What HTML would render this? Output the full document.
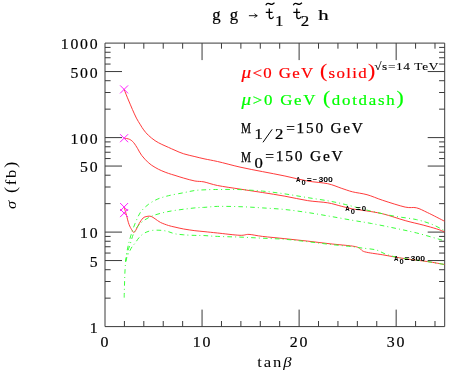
<!DOCTYPE html>
<html><head><meta charset="utf-8"><title>plot</title>
<style>
html,body{margin:0;padding:0;background:#fff;}
body{width:449px;height:374px;overflow:hidden;}
svg{display:block;font-family:"Liberation Serif",serif;will-change:transform;-webkit-font-smoothing:antialiased;}
.tk{font-size:15px;letter-spacing:1.7px;fill:#000;stroke:#000;stroke-width:0.18px;}
.lg{font-size:14.5px;letter-spacing:1.7px;}
.sm{font-size:7.5px;font-weight:bold;fill:#000;letter-spacing:0.2px;}
.it{font-style:italic;}
.bd{stroke-width:0.2px;}
</style></head><body>
<svg width="449" height="374" viewBox="0 0 449 374">
<rect width="449" height="374" fill="#fff"/>
<path d="M105.0 43.1H444.7V326.6H105.0ZM124.41 326.6v-5.6M124.41 43.1v5.6M143.82 326.6v-5.6M143.82 43.1v5.6M163.23 326.6v-5.6M163.23 43.1v5.6M182.65 326.6v-5.6M182.65 43.1v5.6M202.06 326.6v-17.0M202.06 43.1v17.0M221.47 326.6v-5.6M221.47 43.1v5.6M240.88 326.6v-5.6M240.88 43.1v5.6M260.29 326.6v-5.6M260.29 43.1v5.6M279.70 326.6v-5.6M279.70 43.1v5.6M299.11 326.6v-17.0M299.11 43.1v17.0M318.53 326.6v-5.6M318.53 43.1v5.6M337.94 326.6v-5.6M337.94 43.1v5.6M357.35 326.6v-5.6M357.35 43.1v5.6M376.76 326.6v-5.6M376.76 43.1v5.6M396.17 326.6v-17.0M396.17 43.1v17.0M415.58 326.6v-5.6M415.58 43.1v5.6M434.99 326.6v-5.6M434.99 43.1v5.6M105.0 298.15h5.6M444.7 298.15h-5.6M105.0 281.51h5.6M444.7 281.51h-5.6M105.0 269.71h5.6M444.7 269.71h-5.6M105.0 260.55h17.0M444.7 260.55h-17.0M105.0 253.06h5.6M444.7 253.06h-5.6M105.0 246.74h5.6M444.7 246.74h-5.6M105.0 241.26h5.6M444.7 241.26h-5.6M105.0 236.42h5.6M444.7 236.42h-5.6M105.0 232.10h17.0M444.7 232.10h-17.0M105.0 203.65h5.6M444.7 203.65h-5.6M105.0 187.01h5.6M444.7 187.01h-5.6M105.0 175.21h5.6M444.7 175.21h-5.6M105.0 166.05h17.0M444.7 166.05h-17.0M105.0 158.56h5.6M444.7 158.56h-5.6M105.0 152.24h5.6M444.7 152.24h-5.6M105.0 146.76h5.6M444.7 146.76h-5.6M105.0 141.92h5.6M444.7 141.92h-5.6M105.0 137.60h17.0M444.7 137.60h-17.0M105.0 109.15h5.6M444.7 109.15h-5.6M105.0 92.51h5.6M444.7 92.51h-5.6M105.0 80.71h5.6M444.7 80.71h-5.6M105.0 71.55h17.0M444.7 71.55h-17.0M105.0 64.06h5.6M444.7 64.06h-5.6M105.0 57.74h5.6M444.7 57.74h-5.6M105.0 52.26h5.6M444.7 52.26h-5.6M105.0 47.42h5.6M444.7 47.42h-5.6" fill="none" stroke="#3a3a3a" stroke-width="1"/>
<path d="M124.1 89.4C124.8 91.2 127.0 96.7 128.4 100.0C129.8 103.3 131.1 106.4 132.4 109.4C133.7 112.4 135.1 115.5 136.4 118.1C137.7 120.7 139.2 122.8 140.4 124.8C141.6 126.8 142.4 128.2 143.7 129.9C145.0 131.7 146.5 133.5 148.4 135.3C150.3 137.1 152.9 139.2 155.1 140.7C157.3 142.2 159.6 143.3 161.8 144.4C164.0 145.5 166.3 146.4 168.5 147.4C170.7 148.4 172.5 149.2 175.0 150.3C177.5 151.4 180.4 152.8 183.7 153.8C187.0 154.9 191.3 155.7 194.9 156.6C198.5 157.5 201.2 158.2 205.0 159.0C208.8 159.8 211.7 160.2 217.5 161.5C223.3 162.8 232.5 165.4 240.0 167.1C247.5 168.8 254.9 170.1 262.4 171.6C269.9 173.1 277.4 174.4 284.9 176.0C292.4 177.6 300.4 179.7 307.5 181.0C314.6 182.3 322.1 182.5 327.7 183.7C333.3 184.9 337.1 186.8 341.2 188.2C345.3 189.5 348.1 190.7 352.4 191.8C356.7 192.9 361.9 193.3 367.0 194.7C372.1 196.1 376.3 198.2 382.7 200.3C389.1 202.4 399.6 205.8 405.2 207.1C410.8 208.3 412.6 206.9 416.4 207.8C420.1 208.7 423.0 210.5 427.7 212.7C432.4 214.9 441.7 219.8 444.5 221.2" fill="none" stroke="#ff3030" stroke-width="0.95"/>
<path d="M124.1 138.1C125.0 138.3 128.1 138.6 129.7 139.4C131.3 140.2 132.4 141.1 133.7 142.7C135.0 144.2 136.4 146.6 137.7 148.7C139.0 150.8 139.9 153.1 141.7 155.4C143.5 157.7 146.2 160.7 148.4 162.7C150.6 164.7 152.9 166.1 155.1 167.4C157.3 168.8 159.6 169.8 161.8 170.8C164.0 171.8 166.3 172.6 168.5 173.4C170.7 174.2 172.5 174.6 175.0 175.4C177.5 176.2 180.4 177.2 183.7 178.1C187.0 179.0 191.5 180.4 194.9 181.0C198.3 181.6 200.2 181.2 204.0 181.9C207.8 182.7 211.5 184.3 217.5 185.5C223.5 186.7 232.5 187.9 240.0 189.1C247.5 190.3 254.9 191.3 262.4 192.5C269.9 193.7 277.4 194.8 284.9 196.2C292.4 197.5 300.4 199.5 307.5 200.6C314.6 201.7 322.1 201.9 327.7 202.8C333.3 203.7 337.1 205.2 341.2 206.2C345.3 207.2 348.8 208.2 352.4 208.9C355.9 209.6 357.4 209.5 362.5 210.3C367.6 211.1 375.6 212.1 382.7 213.8C389.8 215.5 398.4 218.7 405.2 220.6C411.9 222.5 418.0 223.7 423.2 225.1C428.4 226.5 433.1 227.8 436.6 228.9C440.2 230.0 443.2 231.3 444.5 231.8" fill="none" stroke="#ff3030" stroke-width="0.95"/>
<path d="M124.1 207.0C124.5 208.3 125.6 212.1 126.4 215.0C127.2 217.9 128.1 222.0 129.0 224.4C129.9 226.8 130.9 228.4 131.7 229.7C132.5 231.0 133.0 232.3 133.7 232.4C134.4 232.5 134.8 231.9 135.7 230.4C136.6 228.9 137.9 225.8 139.1 223.7C140.3 221.6 141.8 219.2 143.1 218.0C144.4 216.8 145.8 216.7 147.1 216.4C148.4 216.1 149.8 216.0 151.1 216.4C152.4 216.8 153.5 217.8 155.1 218.8C156.7 219.8 158.2 221.3 160.4 222.4C162.6 223.5 166.1 224.7 168.5 225.5C170.9 226.3 172.5 226.5 175.0 227.1C177.5 227.7 180.4 228.4 183.7 229.0C187.0 229.6 191.3 230.2 194.9 230.7C198.5 231.1 201.2 231.3 205.0 231.7C208.8 232.1 211.7 232.4 217.5 233.0C223.3 233.6 234.8 235.1 240.0 235.3C245.2 235.5 245.3 234.2 249.0 234.4C252.7 234.6 256.4 235.7 262.4 236.4C268.4 237.1 277.4 237.9 284.9 238.7C292.4 239.5 300.0 240.2 307.5 241.1C315.0 241.9 322.5 243.0 330.0 243.8C337.5 244.6 347.5 245.4 352.4 246.1C357.3 246.8 357.1 247.1 359.2 248.0C361.2 248.9 360.8 250.7 364.7 251.8C368.6 252.9 375.9 253.7 382.7 254.8C389.4 256.0 397.7 257.6 405.2 258.7C412.7 259.8 421.1 260.6 427.7 261.6C434.2 262.6 441.7 264.0 444.5 264.5" fill="none" stroke="#ff3030" stroke-width="0.95"/>
<path d="M124.2 297.6C124.2 296.0 124.3 291.2 124.4 288.0C124.5 284.8 124.6 281.7 124.7 278.5C124.8 275.3 124.9 271.8 125.1 268.9C125.3 266.0 125.4 264.1 125.7 261.4C126.0 258.7 126.3 255.6 126.8 252.8C127.2 250.0 127.7 247.6 128.4 244.7C129.1 241.8 129.9 238.6 131.0 235.1C132.1 231.6 133.4 227.5 135.0 223.7C136.6 219.9 138.2 215.6 140.4 212.4C142.6 209.2 145.5 206.6 148.4 204.4C151.3 202.2 154.5 200.4 157.8 199.0C161.2 197.6 164.2 196.8 168.5 195.7C172.8 194.6 179.3 193.6 183.7 192.7C188.1 191.8 191.3 191.0 194.9 190.5C198.5 190.0 201.2 190.0 205.0 189.8C208.8 189.6 211.7 189.5 217.5 189.5C223.3 189.5 232.5 189.3 240.0 189.6C247.5 189.9 254.9 190.4 262.4 191.1C269.9 191.8 277.4 192.8 284.9 193.9C292.4 195.0 300.0 196.4 307.5 197.6C315.0 198.8 323.6 200.0 330.0 201.2C336.4 202.4 338.8 202.9 345.7 204.6C352.6 206.3 363.4 209.3 371.5 211.2C379.6 213.1 386.5 214.7 394.0 216.1C401.5 217.5 410.0 218.2 416.4 219.6C422.8 221.0 427.4 222.6 432.1 224.4C436.8 226.2 442.4 229.6 444.5 230.7" fill="none" stroke="#30ff30" stroke-width="0.95" stroke-dasharray="4.6 3.1 1 3.2" stroke-dashoffset="0.0"/>
<path d="M125.7 261.4C126.0 260.0 126.6 255.6 127.3 252.8C128.0 250.0 129.0 247.9 130.0 244.7C131.0 241.5 132.2 236.9 133.5 233.8C134.8 230.8 136.1 228.5 137.7 226.4C139.3 224.3 140.9 222.8 143.1 221.1C145.3 219.4 148.0 217.8 151.1 216.4C154.2 215.1 157.8 214.0 161.8 213.0C165.8 212.0 169.5 211.2 175.0 210.4C180.5 209.6 189.9 208.4 194.9 207.9C199.9 207.4 201.2 207.6 205.0 207.3C208.8 207.1 211.7 206.5 217.5 206.4C223.3 206.3 232.5 206.4 240.0 206.7C247.5 206.9 254.9 207.4 262.4 207.9C269.9 208.4 277.4 208.7 284.9 209.5C292.4 210.3 300.0 211.4 307.5 212.5C315.0 213.6 322.5 215.0 330.0 216.3C337.5 217.6 345.5 219.1 352.4 220.3C359.3 221.5 364.6 222.2 371.5 223.5C378.4 224.8 386.5 226.4 394.0 228.0C401.5 229.6 408.0 230.8 416.4 232.9C424.8 235.0 439.8 239.5 444.5 240.8" fill="none" stroke="#30ff30" stroke-width="0.95" stroke-dasharray="4.6 3.1 1 3.2" stroke-dashoffset="0.5"/>
<path d="M125.7 261.4C126.0 260.3 127.1 256.8 127.8 255.0C128.5 253.2 129.3 251.9 130.0 250.5C130.7 249.1 131.3 247.9 132.1 246.7C132.9 245.5 133.8 244.8 135.0 243.3C136.2 241.8 137.5 239.3 139.1 237.6C140.7 235.9 142.2 234.3 144.4 233.1C146.6 231.9 149.5 230.8 152.4 230.4C155.3 230.0 159.1 230.2 161.8 230.4C164.5 230.6 166.3 231.1 168.5 231.7C170.7 232.3 172.5 233.3 175.0 233.8C177.5 234.3 180.4 234.5 183.7 234.8C187.0 235.1 191.3 235.3 194.9 235.4C198.5 235.5 201.2 235.4 205.0 235.6C208.8 235.8 211.7 236.2 217.5 236.4C223.3 236.7 232.5 236.8 240.0 237.1C247.5 237.4 254.9 237.8 262.4 238.2C269.9 238.6 277.4 238.7 284.9 239.3C292.4 239.9 300.0 240.8 307.5 241.7C315.0 242.5 322.5 243.6 330.0 244.4C337.5 245.2 347.0 246.1 352.4 246.7C357.8 247.3 358.6 247.6 362.5 248.1C366.4 248.6 372.2 248.9 376.0 249.9C379.8 250.9 382.0 252.8 385.0 253.9C388.0 255.0 390.6 255.8 394.0 256.6C397.4 257.4 399.6 257.9 405.2 258.7C410.8 259.5 421.1 260.6 427.7 261.6C434.2 262.6 441.7 264.0 444.5 264.5" fill="none" stroke="#30ff30" stroke-width="0.95" stroke-dasharray="4.6 3.1 1 3.2" stroke-dashoffset="0.5"/>
<path d="M120.1 85.4l8.0 8.0M120.1 93.4l8.0 -8.0M120.1 134.2l8.0 8.0M120.1 142.2l8.0 -8.0M120.1 203.0l8.0 8.0M120.1 211.0l8.0 -8.0M120.1 209.1l8.0 8.0M120.1 217.1l8.0 -8.0" fill="none" stroke="#ff20ff" stroke-width="1"/>
<text transform="translate(99.4,49.1) scale(1.05,1)" text-anchor="end" class="tk">1000</text>
<text transform="translate(99.4,77.5) scale(1.05,1)" text-anchor="end" class="tk">500</text>
<text transform="translate(99.4,143.6) scale(1.05,1)" text-anchor="end" class="tk">100</text>
<text transform="translate(99.4,172.0) scale(1.05,1)" text-anchor="end" class="tk">50</text>
<text transform="translate(99.4,238.1) scale(1.05,1)" text-anchor="end" class="tk">10</text>
<text transform="translate(99.4,266.5) scale(1.05,1)" text-anchor="end" class="tk">5</text>
<text transform="translate(99.4,332.6) scale(1.05,1)" text-anchor="end" class="tk">1</text>
<text transform="translate(105.3,346.8) scale(1.06,1)" text-anchor="middle" class="tk">0</text>
<text transform="translate(202.4,346.8) scale(1.06,1)" text-anchor="middle" class="tk">10</text>
<text transform="translate(299.4,346.8) scale(1.06,1)" text-anchor="middle" class="tk">20</text>
<text transform="translate(396.5,346.8) scale(1.06,1)" text-anchor="middle" class="tk">30</text>
<!-- title -->
<g class="lg" fill="#000" stroke="#000" stroke-width="0.22" style="font-size:14.5px">
<text transform="translate(212.2,20.3) scale(0.98,1)" style="font-size:17px;letter-spacing:0">g</text><text transform="translate(229.8,20.3) scale(0.98,1)" style="font-size:17px;letter-spacing:0">g</text>
<path d="M248.9 15.7H257M254.6 13.6Q255.4 15.2 257.3 15.7Q255.4 16.2 254.6 17.8" fill="none" stroke="#000" stroke-width="0.9"/>
<path d="M269.3 8.6V16.6Q269.3 18.6 271.2 18.6Q272.8 18.6 273.5 16.6M265.8 12.3H272.6M293.5 12.3" fill="none" stroke="#000" stroke-width="1.3"/>
<path d="M296.8 8.6V16.6Q296.8 18.6 298.7 18.6Q300.3 18.6 301 16.6M293.3 12.3H300.1" fill="none" stroke="#000" stroke-width="1.3"/>
<path d="M265.8 5.2Q267 2.6 269.2 3.6T272 4.4T274.5 2.8" fill="none" stroke="#000" stroke-width="1.25"/>
<path d="M293.3 5.2Q294.5 2.6 296.7 3.6T299.5 4.4T302 2.8" fill="none" stroke="#000" stroke-width="1.25"/>
<text transform="translate(275.3,25.6) scale(1.15,1)" style="font-size:14px">1</text>
<text transform="translate(300.8,25.6) scale(1.2,1)" style="font-size:14px">2</text>
<text transform="translate(318.2,19.6) scale(1.38,1)" style="font-size:15px">h</text>
</g>
<!-- legend -->
<text transform="translate(241.4,77.8) scale(1.16,1)" class="lg bd" fill="#ff0000" stroke="#ff0000" textLength="117.1" lengthAdjust="spacing"><tspan class="it" style="font-size:16.5px">&#956;</tspan>&lt;0 GeV <tspan style="font-size:18.5px" dy="-0.7">(</tspan><tspan dy="0.7">solid</tspan><tspan style="font-size:18.5px" dy="-0.7">)</tspan></text>
<text transform="translate(241.4,104.6) scale(1.16,1)" class="lg bd" fill="#00ff00" stroke="#00ff00" textLength="141.6" lengthAdjust="spacing"><tspan class="it" style="font-size:16.5px">&#956;</tspan>&gt;0 GeV <tspan style="font-size:18.5px" dy="-0.7">(</tspan><tspan dy="0.7">dotdash</tspan><tspan style="font-size:18.5px" dy="-0.7">)</tspan></text>
<g class="lg" fill="#000" stroke="#000" stroke-width="0.25">
<text x="241" y="133.3" textLength="10" lengthAdjust="spacingAndGlyphs" style="letter-spacing:0;font-size:13.8px">M</text>
<text transform="translate(254.6,139.4) scale(1.12,1)" style="letter-spacing:0">1</text>
<path d="M263 142.3L272.2 129.3" fill="none" stroke="#000" stroke-width="1"/>
<text transform="translate(275,139.4) scale(1.15,1)" style="letter-spacing:0">2</text>
<text x="286.2" y="133.4" textLength="78.4" lengthAdjust="spacingAndGlyphs">=150 GeV</text>
<text x="241" y="162.4" textLength="10" lengthAdjust="spacingAndGlyphs" style="letter-spacing:0;font-size:13.8px">M</text>
<text transform="translate(254.4,167.6) scale(1.15,1)" style="letter-spacing:0">0</text>
<text x="265.2" y="161.2" textLength="79.3" lengthAdjust="spacingAndGlyphs">=150 GeV</text>
</g>
<text transform="translate(374.2,70) scale(1.18,1)" style="font-size:11.3px;letter-spacing:0.3px" fill="#000" stroke="#000" stroke-width="0.08" textLength="54.7" lengthAdjust="spacing">&#8730;s=14 TeV</text>
<!-- curve labels -->
<g style="font-family:'Liberation Sans',sans-serif;font-weight:bold;font-size:6.7px" fill="#000">
<text x="296.1" y="181.5" textLength="4.4" lengthAdjust="spacingAndGlyphs">A</text><text x="301.6" y="184.8" textLength="4.2" lengthAdjust="spacingAndGlyphs" style="font-size:7.8px">0</text><text x="306.7" y="181.6" textLength="5.0" lengthAdjust="spacingAndGlyphs">=</text><text x="312.8" y="181.6" textLength="4.5" lengthAdjust="spacingAndGlyphs">&#8722;</text><text x="318.4" y="181.6" textLength="14.5" lengthAdjust="spacingAndGlyphs">300</text>
<text x="345.2" y="210.7" textLength="4.4" lengthAdjust="spacingAndGlyphs">A</text><text x="350.7" y="214.0" textLength="4.2" lengthAdjust="spacingAndGlyphs" style="font-size:7.8px">0</text><text x="355.8" y="210.8" textLength="5.0" lengthAdjust="spacingAndGlyphs">=</text><text x="361.8" y="210.8" textLength="4.4" lengthAdjust="spacingAndGlyphs">0</text>
<text x="394.0" y="260.6" textLength="4.4" lengthAdjust="spacingAndGlyphs">A</text><text x="399.5" y="263.9" textLength="4.2" lengthAdjust="spacingAndGlyphs" style="font-size:7.8px">0</text><text x="404.6" y="260.7" textLength="5.0" lengthAdjust="spacingAndGlyphs">=</text><text x="410.6" y="260.7" textLength="14.5" lengthAdjust="spacingAndGlyphs">300</text>
</g>
<!-- axis labels -->
<text x="257.2" y="366.6" class="lg" fill="#000" textLength="36.4" lengthAdjust="spacingAndGlyphs">tan<tspan class="it">&#946;</tspan></text>
<text transform="translate(15.9,209) rotate(-90)" class="lg" fill="#000" style="font-size:15.5px" textLength="49" lengthAdjust="spacingAndGlyphs"><tspan class="it">&#963;</tspan> <tspan style="font-size:17px" dy="-0.4">(</tspan><tspan dy="0.4">fb</tspan><tspan style="font-size:17px" dy="-0.4">)</tspan></text>
</svg>
</body></html>
